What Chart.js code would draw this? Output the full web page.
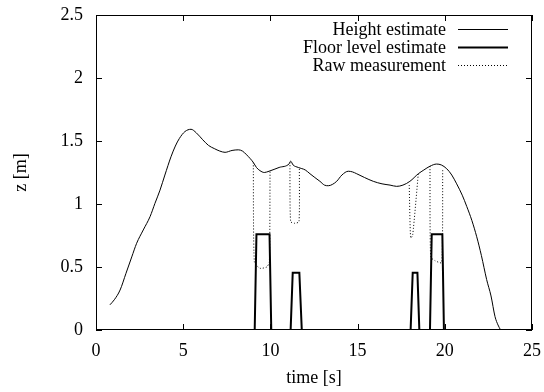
<!DOCTYPE html>
<html lang="en">
<head>
  <meta charset="UTF-8">
  <title>Height estimate</title>
  <style>
    body { margin: 0; background: #fff; }
    .wrap { width: 544px; height: 392px; position: relative; }
  </style>
</head>
<body>
  <div class="wrap"><canvas id="chart"></canvas></div>

  <script src="https://cdn.jsdelivr.net/npm/chart.js"></script>
  <script>
    // values (time in s, z in m)
    const heightT = [0.80, 1.05, 1.38, 1.72, 2.05, 2.33, 2.71, 3.1, 3.38, 3.67, 3.95, 4.3, 4.55, 4.78, 5.1, 5.45, 5.75,
      6.12, 6.45, 6.78, 7.1, 7.4, 7.8, 8.16, 8.4, 8.64, 9.02, 9.2, 9.4, 9.65, 9.92, 10.5, 11.08, 11.16, 11.3, 11.6, 12.0, 12.27,
      12.55, 12.84, 13.1, 13.32, 13.55, 13.8, 14.1, 14.47, 14.7, 14.95, 15.4, 15.9, 16.4, 16.86, 17.24, 17.6, 18.0, 18.48, 18.8, 19.15,
      19.53, 19.8, 20.11, 20.4, 20.68, 21.0, 21.26, 21.55, 21.83, 22.1, 22.4, 22.65, 22.88, 23.05, 23.2];
    const heightZ = [0.20, 0.24, 0.317, 0.45, 0.58, 0.688, 0.794, 0.90, 1.005, 1.11, 1.23, 1.375, 1.46, 1.52, 1.575, 1.593, 1.565,
      1.51, 1.465, 1.44, 1.42, 1.41, 1.425, 1.43, 1.42, 1.39, 1.33, 1.29, 1.265, 1.25, 1.26, 1.29, 1.32, 1.34, 1.31, 1.29, 1.27, 1.24,
      1.21, 1.18, 1.15, 1.145, 1.155, 1.18, 1.23, 1.26, 1.255, 1.24, 1.21, 1.18, 1.16, 1.15, 1.14, 1.15, 1.18, 1.24, 1.27, 1.30,
      1.317, 1.31, 1.28, 1.23, 1.16, 1.07, 0.98, 0.87, 0.74, 0.59, 0.40, 0.27, 0.106, 0.04, 0.0];

    const floorT = [0.80, 9.1, 9.2, 9.95, 10.05, 11.16, 11.28, 11.66, 11.8, 18.04, 18.16, 18.43, 18.54, 19.15, 19.25, 19.86, 19.95, 23.2];
    const floorZ = [0, 0, 0.76, 0.76, 0, 0, 0.455, 0.455, 0, 0, 0.455, 0.455, 0, 0, 0.76, 0.76, 0, 0];

    // raw measurement only where it leaves the height estimate (null = gap)
    const rawT = [9.02, 9.08, 9.4, 9.79, 9.94, 9.98, 10.0,
      11.12, 11.16, 11.41, 11.64, 11.66, 11.7,
      17.96, 18.04, 18.16, 18.48, 18.5,
      19.15, 19.19, 19.44, 19.82, 19.88];
    const rawZ = [1.33, 0.54, 0.49, 0.50, 0.54, 1.256, null,
      1.33, 0.86, 0.847, 0.86, 1.29, null,
      1.15, 0.73, 0.755, 1.24, null,
      1.30, 0.58, 0.55, 0.535, 1.27];

    const xTicks = [0, 5, 10, 15, 20, 25];
    const yTicks = [0, 0.5, 1, 1.5, 2, 2.5];

    function pts(xs, ys) {
      return xs.map((x, i) => ({ x: x, y: ys[i] }));
    }

    const serif = 'Liberation Serif';
    const fontSize = 18;

    // box, inward ticks and gnuplot-like legend
    const frame = {
      id: 'frame',
      afterDraw(chart) {
        const ctx = chart.ctx;
        const a = chart.chartArea;
        const xs = chart.scales.x, ys = chart.scales.y;
        ctx.save();
        ctx.strokeStyle = '#000';
        ctx.lineWidth = 1;
        ctx.strokeRect(a.left + 0.5, a.top + 0.5, a.right - a.left - 1, a.bottom - a.top - 1);
        ctx.beginPath();
        xTicks.forEach(v => {
          const px = Math.round(xs.getPixelForValue(v)) + 0.5;
          ctx.moveTo(px, a.bottom); ctx.lineTo(px, a.bottom - 6);
          ctx.moveTo(px, a.top); ctx.lineTo(px, a.top + 6);
        });
        yTicks.forEach(v => {
          const py = Math.round(ys.getPixelForValue(v)) + 0.5;
          ctx.moveTo(a.left, py); ctx.lineTo(a.left + 6, py);
          ctx.moveTo(a.right, py); ctx.lineTo(a.right - 6, py);
        });
        ctx.stroke();

        ctx.font = fontSize + 'px "' + serif + '"';
        ctx.fillStyle = '#000';
        ctx.textAlign = 'right';
        ctx.textBaseline = 'middle';
        chart.data.datasets.forEach((ds, i) => {
          const y = 29 + i * 18;
          ctx.fillText(ds.label, 446, y + 1);
          ctx.beginPath();
          ctx.lineWidth = ds.borderWidth;
          ctx.setLineDash(ds.borderDash || []);
          ctx.moveTo(458, y + 0.5); ctx.lineTo(508, y + 0.5);
          ctx.stroke();
        });
        ctx.restore();
      }
    };

    new Chart(document.getElementById('chart'), {
      type: 'line',
      data: {
        datasets: [
          { label: 'Height estimate', data: pts(heightT, heightZ), borderColor: '#000', borderWidth: 1, cubicInterpolationMode: 'monotone' },
          { label: 'Floor level estimate', data: pts(floorT, floorZ), borderColor: '#000', borderWidth: 2 },
          { label: 'Raw measurement', data: pts(rawT, rawZ), borderColor: '#000', borderWidth: 1, borderDash: [1, 2], tension: 0.2 }
        ]
      },
      options: {
        responsive: true,
        maintainAspectRatio: false,
        animation: false,
        events: [],
        elements: { point: { radius: 0 } },
        layout: { padding: { top: 15, right: 12, left: 0, bottom: 0 } },
        plugins: { legend: { display: false }, tooltip: { enabled: false } },
        scales: {
          x: {
            type: 'linear',
            min: 0, max: 25,
            afterFit: s => { s.height = 62; s.paddingLeft = 0; s.paddingRight = 0; },
            afterBuildTicks: s => { s.ticks = xTicks.map(v => ({ value: v })); },
            grid: { display: false, drawTicks: false },
            border: { display: false },
            ticks: { color: '#000', padding: 10, maxRotation: 0, font: { family: serif, size: fontSize } },
            title: { display: true, text: 'time [s]', color: '#000', padding: { top: 0, bottom: 3 }, font: { family: serif, size: fontSize } }
          },
          y: {
            min: 0, max: 2.5,
            afterFit: s => { s.width = 96; s.paddingTop = 0; s.paddingBottom = 0; },
            afterBuildTicks: s => { s.ticks = yTicks.map(v => ({ value: v })); },
            grid: { display: false, drawTicks: false },
            border: { display: false },
            ticks: { color: '#000', padding: 13, font: { family: serif, size: fontSize }, callback: v => String(v) },
            title: { display: true, text: 'z [m]', color: '#000', padding: { top: 10, bottom: 0 }, font: { family: serif, size: fontSize } }
          }
        }
      },
      plugins: [frame]
    });
  </script>
</body>
</html>
